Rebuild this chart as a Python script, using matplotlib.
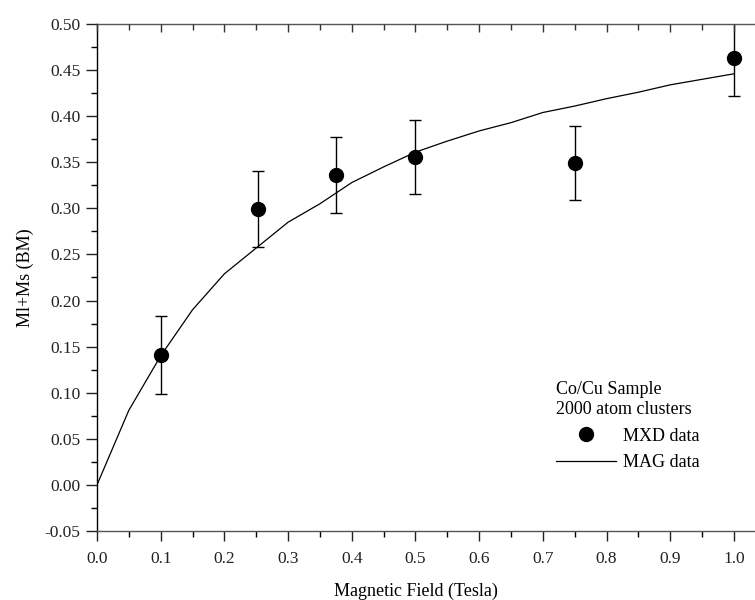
import matplotlib
matplotlib.use("Agg")
import matplotlib.pyplot as plt
from matplotlib.ticker import MultipleLocator, FormatStrFormatter

plt.rcParams['font.family'] = ['Liberation Serif', 'DejaVu Serif']

# MXD data (with error bars)
mxd_field = [0.10, 0.252, 0.375, 0.50, 0.75, 1.00]
mxd_moment = [0.141, 0.299, 0.336, 0.356, 0.349, 0.463]
mxd_err = [0.042, 0.041, 0.041, 0.040, 0.040, 0.041]

# MAG data (line)
mag_field = [0.00, 0.05, 0.10, 0.15, 0.20, 0.25, 0.30, 0.35, 0.40, 0.45, 0.50,
             0.55, 0.60, 0.65, 0.70, 0.75, 0.80, 0.85, 0.90, 0.95, 1.00]
mag_moment = [0.000, 0.081, 0.140, 0.190, 0.229, 0.257, 0.285, 0.305, 0.328, 0.345, 0.361,
              0.373, 0.384, 0.393, 0.404, 0.411, 0.419, 0.426, 0.434, 0.440, 0.446]

fig = plt.figure(figsize=(7.55, 6.0), dpi=100)
ax = fig.add_axes([97/755, 69/600, 658/755, 507/600])

ax.errorbar(mxd_field, mxd_moment, yerr=mxd_err, fmt='none', ecolor='black',
            elinewidth=1.0, capsize=4, capthick=1.0)
mxd_pts, = ax.plot(mxd_field, mxd_moment, 'o', color='black', markersize=10,
                   label='MXD data')
mag_line, = ax.plot(mag_field, mag_moment, '-', color='black', linewidth=0.9,
                    label='MAG data')

ax.set_xlim(0, 1.033)
ax.set_ylim(-0.05, 0.50)
ax.set_xticks([t/10 for t in range(11)])
ax.xaxis.set_minor_locator(MultipleLocator(0.05))
ax.yaxis.set_major_locator(MultipleLocator(0.05))
ax.yaxis.set_minor_locator(MultipleLocator(0.025))
ax.xaxis.set_major_formatter(FormatStrFormatter('%.1f'))
ax.yaxis.set_major_formatter(FormatStrFormatter('%.2f'))

ax.spines['right'].set_visible(False)
ax.spines['top'].set_color('#555555')
ax.spines['bottom'].set_color('#555555')
ax.spines['left'].set_color('black')
for s in ax.spines.values():
    s.set_linewidth(1.0)

ax.tick_params(axis='x', which='major', direction='out', length=7, width=1.0,
               pad=7.5, labelsize=12.5, colors='#222222')
ax.tick_params(axis='x', which='minor', direction='out', length=4.5, width=1.0)
ax.tick_params(axis='y', which='major', direction='out', length=8, width=1.0,
               pad=4, labelsize=12.5, colors='#222222')
ax.tick_params(axis='y', which='minor', direction='out', length=4.5, width=1.0)

# top inward ticks
axt = ax.twiny()
axt.set_xlim(ax.get_xlim())
axt.set_xticks([t/10 for t in range(11)])
axt.xaxis.set_minor_locator(MultipleLocator(0.05))
axt.tick_params(axis='x', which='major', direction='in', length=6, width=1.0,
                labeltop=False, colors='#333333')
axt.tick_params(axis='x', which='minor', direction='in', length=4, width=1.0,
                colors='#333333')
for s in axt.spines.values():
    s.set_visible(False)

ax.set_xlabel('Magnetic Field (Tesla)', fontsize=13)
ax.xaxis.set_label_coords(0.5/1.033, -0.102)
ax.set_ylabel('Ml+Ms (BM)', fontsize=13)
ax.yaxis.set_label_coords(-0.096, 0.5)

leg = ax.legend(handles=[mxd_pts, mag_line],
                title='Co/Cu Sample\n2000 atom clusters',
                loc='upper left', bbox_to_anchor=((556-97)/658, (531-381)/507),
                frameon=False, fontsize=13, title_fontsize=13, alignment='left',
                handlelength=3.3, handletextpad=0.4, borderpad=0, borderaxespad=0,
                labelspacing=0.55)

fig.savefig('out.png', dpi=100)
